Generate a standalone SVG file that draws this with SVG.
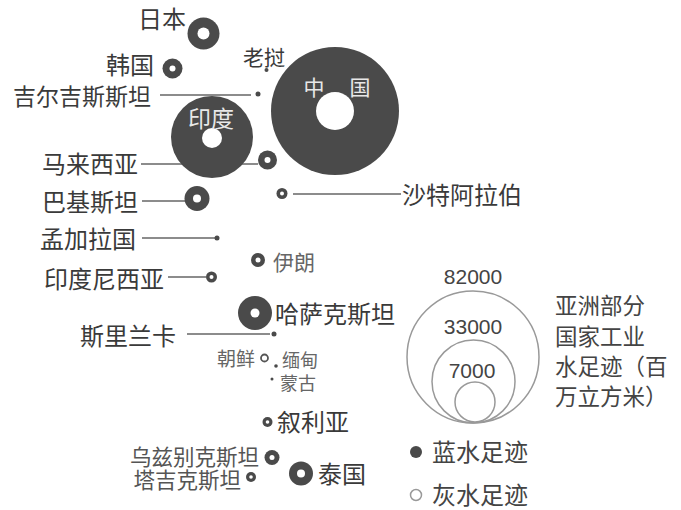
<svg xmlns="http://www.w3.org/2000/svg" width="681" height="510" viewBox="0 0 681 510">
<style>
text{font-family:"Noto Sans CJK SC","Liberation Sans",sans-serif;fill:#3a3a3a}
.lbl{font-size:24px}
.sm{font-size:19px;fill:#666}
.end{text-anchor:end}
.b{fill:#4a4a4a}
.h{fill:#fff}
.ln{stroke:#666;stroke-width:1.5;fill:none}
.lg{fill:none;stroke:#999;stroke-width:1.5}
.num{font-family:"Liberation Sans",Arial,sans-serif;font-size:21px;fill:#444;text-anchor:middle}
.leg{font-size:24px;fill:#444}
.leg2{font-size:22.5px;fill:#444}
</style>
<rect width="681" height="510" fill="#fff"/>
<g id="connectors">
<line class="ln" x1="160" y1="95" x2="251" y2="95"/>
<line class="ln" x1="141" y1="164" x2="258" y2="164"/>
<line class="ln" x1="142" y1="201" x2="185" y2="201"/>
<line class="ln" x1="293" y1="194" x2="401" y2="194"/>
<line class="ln" x1="142" y1="238" x2="215" y2="238"/>
<line class="ln" x1="168" y1="277" x2="206" y2="277"/>
<line class="ln" x1="187" y1="334" x2="270" y2="334"/>
</g>
<g id="china"><circle class="b" cx="335" cy="111" r="64"/><circle class="h" cx="335" cy="111" r="19"/>
<text x="314" y="95" style="font-size:21px;fill:#e8e8e8;text-anchor:middle">中</text><text x="360" y="95" style="font-size:21px;fill:#e8e8e8;text-anchor:middle">国</text></g>
<g id="india"><circle class="b" cx="212" cy="137" r="41"/><circle class="h" cx="212" cy="138" r="10"/>
<text x="211" y="127" style="font-size:23px;fill:#e8e8e8;text-anchor:middle">印度</text></g>
<g id="japan"><circle class="b" cx="203.5" cy="33.5" r="16"/><circle class="h" cx="203.5" cy="33.5" r="6"/><text class="lbl end" x="186" y="28">日本</text></g>
<g id="korea"><circle class="b" cx="172.5" cy="68.5" r="10"/><circle class="h" cx="172.5" cy="68.5" r="3"/><text class="lbl end" x="154" y="74">韩国</text></g>
<g id="laos"><circle class="b" cx="266.5" cy="70" r="2"/><text x="243" y="65" style="font-size:21px">老挝</text></g>
<g id="kyrgyzstan"><circle class="b" cx="258" cy="94" r="2.5"/><text class="end" x="151" y="105" style="font-size:23px">吉尔吉斯斯坦</text></g>
<g id="malaysia"><circle class="b" cx="267.5" cy="160" r="9.5"/><circle class="h" cx="267.5" cy="160" r="3"/><text class="lbl end" x="138" y="173">马来西亚</text></g>
<g id="saudi"><circle class="b" cx="282" cy="193.5" r="5.5"/><circle class="h" cx="282" cy="193.5" r="2"/><text class="lbl" x="402" y="204">沙特阿拉伯</text></g>
<g id="pakistan"><circle class="b" cx="197" cy="198.5" r="12.5"/><circle class="h" cx="197" cy="198.5" r="4"/><text class="lbl end" x="138" y="211">巴基斯坦</text></g>
<g id="bangladesh"><circle class="b" cx="217" cy="238" r="2.5"/><text class="lbl end" x="136" y="248">孟加拉国</text></g>
<g id="iran"><circle class="b" cx="258" cy="260" r="7"/><circle class="h" cx="258" cy="260" r="2.5"/><text class="sm" x="273" y="270" style="font-size:21px">伊朗</text></g>
<g id="indonesia"><circle class="b" cx="211.5" cy="277" r="5.5"/><circle class="h" cx="211.5" cy="277" r="2"/><text class="lbl end" x="164" y="288">印度尼西亚</text></g>
<g id="kazakhstan"><circle class="b" cx="255" cy="313" r="17"/><circle class="h" cx="255" cy="313" r="4.5"/><text class="lbl" x="275" y="323">哈萨克斯坦</text></g>
<g id="srilanka"><circle class="b" cx="274" cy="334" r="2.5"/><text class="lbl end" x="176" y="345">斯里兰卡</text></g>
<g id="northkorea"><circle cx="264.5" cy="358" r="3.5" fill="#fff" stroke="#555" stroke-width="1.8"/><text class="sm end" x="255" y="366">朝鲜</text></g>
<g id="myanmar"><circle class="b" cx="276" cy="366" r="1.8"/><text class="sm" x="282" y="367" style="font-size:18px">缅甸</text></g>
<g id="mongolia"><circle class="b" cx="272" cy="379" r="1.5"/><text class="sm" x="280" y="390" style="font-size:18px">蒙古</text></g>
<g id="syria"><circle class="b" cx="267.5" cy="422" r="5"/><circle class="h" cx="267.5" cy="422" r="1.8"/><text class="lbl" x="277" y="431">叙利亚</text></g>
<g id="uzbekistan"><circle class="b" cx="272" cy="457.5" r="7.5"/><circle class="h" cx="272" cy="457.5" r="2.5"/><text class="end" x="259" y="465" style="font-size:21.5px;fill:#555">乌兹别克斯坦</text></g>
<g id="tajikistan"><circle class="b" cx="251" cy="477" r="5"/><circle class="h" cx="251" cy="477" r="1.8"/><text class="end" x="241" y="488" style="font-size:21.5px;fill:#555">塔吉克斯坦</text></g>
<g id="thailand"><circle class="b" cx="301" cy="473.5" r="12"/><circle class="h" cx="301" cy="473.5" r="4"/><text class="lbl" x="318" y="483">泰国</text></g>
<g id="legend">
<circle class="lg" cx="473" cy="357" r="66"/>
<circle class="lg" cx="473.5" cy="381.5" r="41.5"/>
<circle class="lg" cx="475" cy="402" r="20"/>
<text class="num" x="473" y="284">82000</text>
<text class="num" x="473" y="334">33000</text>
<text class="num" x="472" y="378">7000</text>
<text class="leg2" x="555" y="314">亚洲部分</text>
<text class="leg2" x="555" y="345">国家工业</text>
<text class="leg2" x="555" y="375">水足迹（百</text>
<text class="leg2" x="555" y="405">万立方米）</text>
<circle cx="416" cy="452" r="6" fill="#4a4a4a"/>
<text class="leg" x="432" y="461">蓝水足迹</text>
<circle cx="416" cy="495" r="5.5" fill="#fff" stroke="#999" stroke-width="1.5"/>
<text class="leg" x="432" y="504">灰水足迹</text>
</g>
</svg>
